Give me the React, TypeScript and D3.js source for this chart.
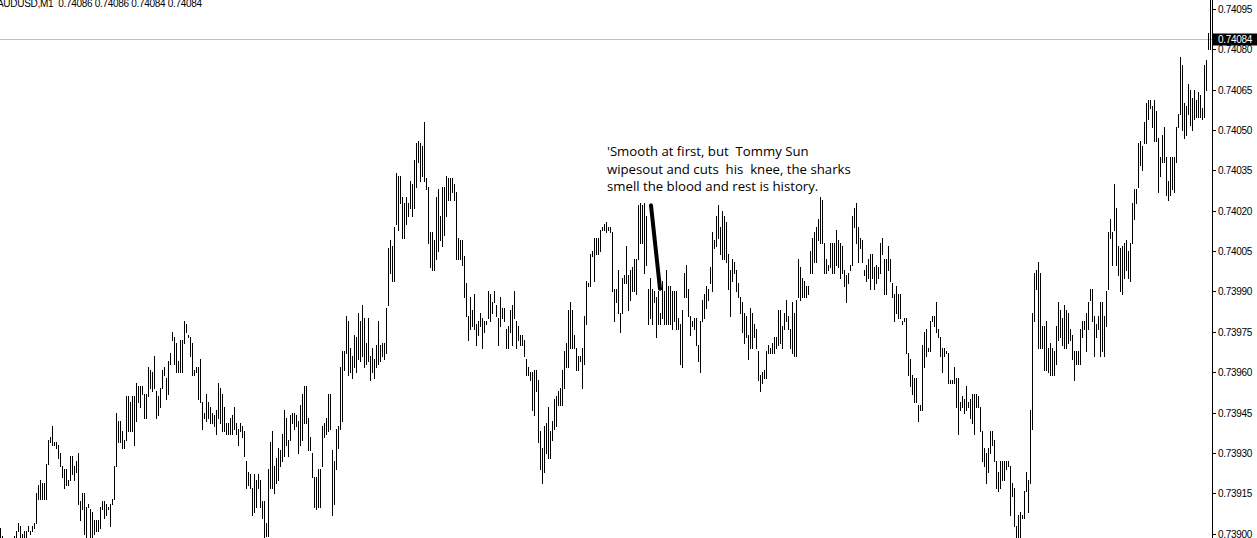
import React from 'react';
import * as d3 from 'd3';

// Prices are stored in points (price x 100000), e.g. 73902 = 0.73902
const SYMBOL = 'AUDUSD,M1';
const LAST_OHLC = ['0.74086', '0.74086', '0.74084', '0.74084'];
const BID = 74084;
const TICKS = [73900, 73915, 73930, 73945, 73960, 73975, 73990, 74005, 74020, 74035, 74050, 74065, 74080, 74095];

const highs = [
  73902,73899,73897,73896,73897,73898,73898,73899,73901,73904,
  73903,73900,73901,73901,73903,73901,73903,73904,73915,73918,
  73920,73919,73919,73926,73935,73936,73940,73934,73934,73933,
  73930,73925,73924,73924,73920,73929,73929,73925,73927,73930,
  73912,73915,73915,73910,73911,73909,73908,73905,73905,73905,
  73910,73912,73912,73911,73910,73911,73913,73925,73945,73942,
  73942,73938,73935,73951,73951,73949,73951,73951,73956,73955,
  73955,73955,73952,73952,73962,73961,73960,73966,73953,73951,
  73954,73961,73962,73958,73964,73967,73975,73973,73971,73964,
  73972,73972,73979,73978,73974,73973,73971,73961,73962,73962,
  73965,73949,73945,73952,73949,73947,73945,73944,73946,73956,
  73954,73952,73947,73941,73941,73943,73944,73947,73941,73939,
  73941,73940,73938,73927,73923,73922,73917,73922,73920,73922,
  73920,73912,73912,73904,73924,73934,73938,73925,73928,73932,
  73931,73937,73946,73943,73935,73944,73945,73945,73944,73942,
  73948,73952,73955,73955,73943,73936,73930,73921,73921,73924,
  73924,73940,73941,73943,73952,73952,73931,73927,73939,73940,
  73962,73968,73968,73981,73979,73969,73966,73974,73973,73982,
  73979,73985,73980,73971,73980,73966,73969,73965,73970,73979,
  73970,73971,73971,73984,74006,74009,74007,74014,74034,74033,
  74033,74025,74023,74025,74023,74031,74030,74039,74045,74046,
  74045,74044,74053,74032,74029,74012,74012,74009,74025,74028,
  74018,74029,74029,74033,74032,74032,74032,74030,74027,74010,
  74009,74009,74003,73993,73981,73988,73983,73989,73978,73979,
  73982,73980,73979,73979,73990,73989,73986,73990,73985,73980,
  73988,73984,73984,73976,73977,73983,73985,73990,73979,73977,
  73974,73974,73972,73965,73962,73960,73960,73961,73961,73957,
  73938,73932,73940,73941,73947,73938,73942,73950,73951,73953,
  73954,73961,73968,73971,73983,73986,73983,73974,73969,73966,
  73966,73969,73981,73994,73993,74004,74005,74010,74010,74010,
  74013,74014,74015,74016,74014,74014,74012,73991,73991,73998,
  73982,73995,73996,74007,73996,73998,73999,74002,74002,74022,
  74023,74022,74023,74018,73991,73995,73991,73990,73988,73990,
  73982,73994,73990,73998,73992,73992,73990,73990,73990,73980,
  73978,73983,73997,74000,73991,73981,73979,73980,73980,73970,
  73979,73987,73989,73992,73991,73999,74012,74009,74018,74022,
  74014,74020,74018,74016,74004,73998,74002,74001,73998,73993,
  73988,73986,73982,73981,73974,73984,73982,73978,73976,73968,
  73959,73960,73961,73968,73970,73969,73971,73973,73973,73983,
  73983,73977,73982,73987,73981,73976,73986,73982,73987,74002,
  73999,73995,73994,73992,73992,74005,74010,74012,74014,74017,
  74025,74024,74008,74002,74000,74008,74008,74008,74013,74009,
  74008,74007,73998,73996,73997,74000,74018,74021,74023,74014,
  74010,74009,73998,74000,74002,74004,74004,73999,74000,73999,
  74008,74010,74002,74002,74007,74002,73993,73989,73992,73989,
  73989,73979,73980,73980,73967,73965,73959,73958,73958,73948,
  73948,73970,73975,73976,73969,73979,73981,73981,73986,73976,
  73973,73969,73969,73968,73967,73957,73957,73962,73958,73958,
  73949,73951,73950,73955,73949,73950,73952,73952,73952,73951,
  73947,73938,73932,73930,73932,73938,73938,73935,73927,73923,
  73927,73927,73927,73927,73927,73925,73919,73917,73903,73907,
  73908,73907,73916,73923,73920,73946,73982,73997,73998,74001,
  73997,73977,73977,73979,73969,73971,73969,73968,73977,73986,
  73983,73980,73985,73983,73982,73976,73974,73968,73968,73968,
  73976,73979,73979,73982,73986,73991,73991,73981,73978,73981,
  73986,73986,73981,73990,74012,74017,74012,74030,74021,74007,
  74006,74007,74008,74009,74005,74008,74023,74028,74028,74045,
  74046,74044,74053,74060,74061,74061,74059,74061,74057,74047,
  74040,74048,74051,74040,74031,74040,74040,74040,74051,74056,
  74077,74074,74060,74059,74067,74065,74062,74065,74061,74064,
  74063,74058,74074,74076,74086,74099,74086,
];

const lows = [
  73897,73894,73892,73890,73891,73892,73893,73894,73898,73901,
  73898,73898,73898,73898,73901,73900,73901,73902,73904,73913,
  73913,73913,73913,73913,73926,73934,73933,73933,73932,73928,
  73925,73921,73917,73918,73918,73920,73922,73920,73923,73911,
  73905,73909,73900,73898,73910,73897,73897,73900,73901,73901,
  73902,73909,73906,73907,73909,73903,73911,73913,73925,73934,
  73934,73932,73932,73935,73938,73938,73938,73933,73942,73949,
  73947,73952,73943,73943,73951,73954,73953,73954,73943,73944,
  73947,73954,73959,73950,73952,73963,73972,73963,73960,73960,
  73960,73960,73971,73975,73973,73966,73959,73959,73960,73950,
  73949,73939,73943,73942,73943,73941,73941,73940,73937,73943,
  73941,73938,73938,73937,73937,73937,73937,73939,73937,73933,
  73938,73936,73929,73917,73918,73917,73907,73908,73910,73917,
  73910,73906,73898,73899,73899,73917,73917,73915,73919,73920,
  73925,73927,73929,73933,73929,73935,73941,73939,73940,73930,
  73933,73935,73941,73941,73931,73931,73921,73910,73909,73910,
  73910,73925,73936,73937,73938,73939,73907,73911,73924,73932,
  73939,73942,73961,73967,73959,73960,73958,73962,73960,73965,
  73964,73966,73962,73963,73964,73957,73960,73958,73962,73963,
  73964,73966,73965,73967,73985,73997,73994,73994,74015,74013,
  74023,74010,74010,74015,74018,74021,74018,74021,74029,74038,
  74031,74033,74031,74028,74008,73999,73998,73998,74002,74005,
  74009,74007,74011,74018,74024,74024,74027,74024,74002,74002,
  74002,74000,73988,73981,73972,73976,73977,73976,73970,73974,
  73977,73969,73975,73978,73980,73979,73982,73986,73981,73970,
  73977,73980,73979,73969,73969,73975,73970,73980,73969,73972,
  73970,73970,73966,73959,73959,73957,73946,73944,73953,73934,
  73924,73919,73923,73930,73928,73928,73935,73939,73940,73948,
  73948,73948,73954,73962,73962,73969,73969,73969,73961,73961,
  73964,73954,73963,73978,73992,73992,74003,73994,74004,74004,
  74005,74013,74013,74012,74013,74012,73990,73979,73986,73982,
  73975,73982,73993,73993,73983,73987,73990,73990,73989,74002,
  74008,74008,73997,74000,73978,73980,73978,73986,73973,73978,
  73978,73980,73978,73978,73978,73978,73976,73979,73976,73976,
  73963,73962,73988,73988,73981,73974,73977,73976,73970,73964,
  73960,73979,73980,73984,73987,73993,73990,74006,74007,74010,
  74004,74002,74002,74001,73991,73981,73994,73997,73990,73988,
  73982,73975,73971,73973,73965,73969,73969,73973,73969,73957,
  73953,73956,73958,73958,73967,73967,73967,73967,73969,73970,
  73971,73969,73976,73979,73976,73969,73967,73966,73966,73988,
  73987,73988,73988,73988,73989,73997,73997,74001,74001,74009,
  74008,74008,73997,73997,73998,73999,73997,73997,74000,73999,
  73995,73997,73992,73986,73993,73998,74000,74014,74008,74001,
  74006,74001,73996,73994,73995,73991,73995,73991,73993,73995,
  73997,74004,73989,73989,73998,73994,73988,73979,73982,73980,
  73980,73978,73979,73967,73959,73955,73952,73949,73949,73942,
  73946,73946,73962,73966,73968,73968,73979,73977,73975,73973,
  73966,73960,73966,73967,73956,73956,73956,73956,73947,73937,
  73946,73947,73945,73946,73947,73943,73941,73937,73947,73947,
  73938,73927,73925,73919,73923,73930,73933,73927,73917,73916,
  73917,73920,73920,73924,73925,73907,73914,73903,73897,73897,
  73897,73906,73906,73916,73908,73919,73939,73979,73991,73969,
  73969,73969,73961,73961,73960,73959,73959,73959,73963,73972,
  73973,73970,73969,73969,73971,73972,73965,73957,73963,73963,
  73963,73973,73976,73968,73976,73987,73979,73966,73973,73976,
  73966,73968,73966,73977,73991,74010,74000,74013,74000,73996,
  73990,73989,73995,73998,73995,73994,74008,74017,74023,74029,
  74037,74035,74045,74045,74054,74058,74051,74046,74046,74027,
  74033,74038,74038,74026,74024,74026,74028,74027,74038,74051,
  74056,74050,74047,74048,74056,74052,74050,74054,74055,74055,
  74055,74054,74055,74065,74080,74080,74084,
];

const NOTE_LINES = [
  "'Smooth at first, but  Tommy Sun",
  'wipesout and cuts  his  knee, the sharks',
  'smell the blood and rest is history.',
];
// hand-drawn segment: [bar index, price points]
const NOTE_SEGMENT: [number, number][] = [[325.5, 74022], [330, 73991]];

const W = 1257;
const H = 538;
const PLOT_W = 1212;
const FONT = '"Liberation Sans", Arial, sans-serif';

export default function App() {
  const x = d3.scaleLinear().domain([0, 1]).range([0, 2]); // 2px per bar
  const y = d3.scaleLinear().domain([73900, 74095]).range([533.7, 8.9]);
  const fmt = (v: number) => d3.format('.5f')(v / 1e5);

  const bars = highs.map((h, i) => {
    const yt = Math.round(y(h));
    const yb = Math.round(y(lows[i]));
    return { x: x(i), y: yt, h: Math.max(1, yb - yt + 1) };
  });

  const bidY = Math.round(y(BID));
  const noteLine = d3.line<[number, number]>().x((d) => x(d[0])).y((d) => y(d[1]));

  return (
    <svg width={W} height={H} style={{ position: 'fixed', left: 0, top: 0, background: '#fff' }}>
      <defs>
        <clipPath id="plot">
          <rect x={0} y={0} width={PLOT_W} height={H} />
        </clipPath>
      </defs>
      <rect x={0} y={0} width={W} height={H} fill="#fff" />
      <g clipPath="url(#plot)">
        <line x1={0} x2={PLOT_W} y1={bidY + 0.5} y2={bidY + 0.5} stroke="#c0c0c0" strokeWidth={1} />
        {bars.map((b, i) => (
          <rect key={i} x={b.x} y={b.y} width={1} height={b.h} fill="#000" shapeRendering="crispEdges" />
        ))}
        <path d={noteLine(NOTE_SEGMENT) || ''} stroke="#000" strokeWidth={4} strokeLinecap="round" fill="none" />
      </g>
      <text x={-3} y={7} fontFamily={FONT} fontSize={10} letterSpacing={-0.3} fill="#000" style={{ whiteSpace: 'pre' }}>
        {SYMBOL + '  ' + LAST_OHLC.join(' ')}
      </text>
      <g fontFamily='"Open Sans", "Noto Sans", sans-serif' fontSize={13.2} fill="#000">
        {NOTE_LINES.map((t, i) => (
          <text key={i} x={607} y={156 + i * 17.5} style={{ whiteSpace: 'pre' }}>{t}</text>
        ))}
      </g>
      <line x1={PLOT_W + 0.5} x2={PLOT_W + 0.5} y1={0} y2={H} stroke="#000" strokeWidth={1} />
      {TICKS.map((t) => {
        const ty = Math.round(y(t));
        return (
          <g key={t}>
            <line x1={PLOT_W} x2={PLOT_W + 4} y1={ty + 0.5} y2={ty + 0.5} stroke="#000" />
            <text x={1218} y={ty} dy="0.35em" fontFamily={FONT} fontSize={10} letterSpacing={-0.3} fill="#000">
              {fmt(t)}
            </text>
          </g>
        );
      })}
      <rect x={1213} y={bidY - 5.5} width={44} height={12} fill="#000" />
      <text x={1218} y={bidY + 0.5} dy="0.35em" fontFamily={FONT} fontSize={10} letterSpacing={-0.3} fill="#fff">
        {fmt(BID)}
      </text>
    </svg>
  );
}
